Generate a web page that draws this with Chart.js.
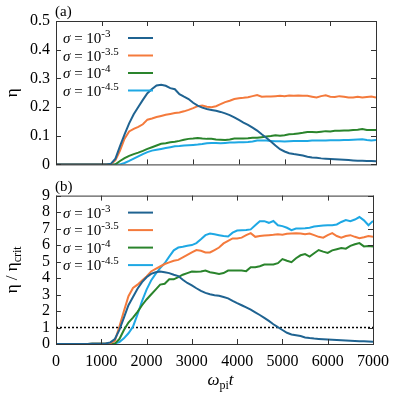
<!DOCTYPE html>
<html>
<head>
<meta charset="utf-8">
<script src="https://cdn.jsdelivr.net/npm/chart.js@4.4.1/dist/chart.umd.min.js"></script>
<style>
  body { margin: 0; background: #fff; }
  #wrap { position: relative; width: 397px; height: 397px; }
  canvas { position: absolute; left: 0; }
</style>
</head>
<body>
<div id="wrap">
  <canvas id="top" width="397" height="180" style="top:0"></canvas>
  <canvas id="bottom" width="397" height="217" style="top:180px"></canvas>
</div>
<script>
// time axis (omega_pi t)
const times = [
  0, 100, 200, 300, 400, 500, 600, 700, 800, 900,
  1000, 1100, 1200, 1300, 1400, 1500, 1600, 1700, 1800, 1900,
  2000, 2100, 2200, 2300, 2400, 2500, 2600, 2700, 2800, 2900,
  3000, 3100, 3200, 3300, 3400, 3500, 3600, 3700, 3800, 3900,
  4000, 4100, 4200, 4300, 4400, 4500, 4600, 4700, 4800, 4900,
  5000, 5100, 5200, 5300, 5400, 5500, 5600, 5700, 5800, 5900,
  6000, 6100, 6200, 6300, 6400, 6500, 6600, 6700, 6800, 6900,
  7000
];

const sigmaExps = ["-3", "-3.5", "-4", "-4.5"];
const colors = ["#1f6391", "#f47a3c", "#2a842c", "#1ea8e4"];

// panel (a): eta
const eta_3 = [
  0, 0, 0, 0, 0, 0, 0, 0, 0, 0,
  0, 0, 0.002, 0.02, 0.064, 0.105, 0.143, 0.175, 0.2, 0.225,
  0.248, 0.263, 0.275, 0.278, 0.274, 0.266, 0.262, 0.245, 0.236, 0.228,
  0.215, 0.205, 0.198, 0.193, 0.19, 0.187, 0.183, 0.178, 0.172, 0.164,
  0.155, 0.146, 0.138, 0.128, 0.118, 0.105, 0.093, 0.08, 0.066, 0.053,
  0.045, 0.039, 0.036, 0.034, 0.031, 0.027, 0.024, 0.023, 0.021, 0.02,
  0.019, 0.018, 0.017, 0.016, 0.015, 0.014, 0.013, 0.013, 0.012, 0.012,
  0.011
];
const eta_35 = [
  0, 0, 0, 0, 0, 0, 0, 0, 0, 0,
  0, 0, 0, 0.015, 0.048, 0.09, 0.115, 0.124, 0.131, 0.14,
  0.156, 0.16, 0.165, 0.169, 0.173, 0.176, 0.179, 0.181, 0.185, 0.19,
  0.196, 0.203, 0.205, 0.201, 0.199, 0.203, 0.21, 0.217, 0.222, 0.228,
  0.231, 0.232, 0.234, 0.238, 0.242, 0.236, 0.237, 0.237, 0.238, 0.239,
  0.238, 0.24, 0.239, 0.24, 0.239, 0.239, 0.236, 0.233, 0.238, 0.241,
  0.236, 0.235, 0.238, 0.236, 0.233, 0.233, 0.236, 0.233, 0.235, 0.237,
  0.233
];
const eta_4 = [
  0, 0, 0, 0, 0, 0, 0, 0, 0, 0,
  0, 0, 0, 0, 0.012, 0.022, 0.03, 0.036, 0.041, 0.047,
  0.054, 0.06, 0.066, 0.072, 0.074, 0.077, 0.079, 0.082, 0.086, 0.089,
  0.09, 0.092, 0.09, 0.089, 0.089, 0.087, 0.086, 0.085, 0.087, 0.09,
  0.09, 0.09, 0.091, 0.093, 0.093, 0.095, 0.097, 0.099, 0.102, 0.1,
  0.102, 0.105, 0.106, 0.108, 0.11, 0.113, 0.113, 0.112, 0.114, 0.116,
  0.115, 0.117, 0.117, 0.118, 0.118, 0.12, 0.121, 0.123, 0.12, 0.12,
  0.12
];
const eta_45 = [
  0, 0, 0, 0, 0, 0, 0, 0, 0, 0,
  0, 0, 0, 0, 0, 0.005, 0.012, 0.02, 0.028, 0.036,
  0.043, 0.048, 0.051, 0.054, 0.057, 0.06, 0.063, 0.064, 0.066, 0.067,
  0.068, 0.069, 0.071, 0.074, 0.075, 0.075, 0.074, 0.075, 0.076, 0.076,
  0.077, 0.077, 0.078, 0.08, 0.083, 0.083, 0.083, 0.082, 0.081, 0.081,
  0.08, 0.081, 0.082, 0.082, 0.082, 0.082, 0.083, 0.083, 0.083, 0.083,
  0.084, 0.084, 0.084, 0.085, 0.085, 0.086, 0.087, 0.088, 0.085, 0.083,
  0.085
];

// panel (b): eta / eta_crit
const ratio_3 = [
  0, 0, 0, 0, 0, 0, 0, 0, 0.01, 0.01,
  0.02, 0.03, 0.1, 0.3, 0.86, 1.6, 2.35, 2.85, 3.35, 3.75,
  4.05, 4.25, 4.35, 4.4, 4.35, 4.3, 4.2, 4.12, 3.9, 3.7,
  3.55, 3.38, 3.22, 3.1, 3.02, 2.96, 2.92, 2.85, 2.77, 2.62,
  2.48, 2.35, 2.22, 2.08, 1.92, 1.76, 1.58, 1.4, 1.2, 1.02,
  0.85, 0.68, 0.58, 0.53, 0.48, 0.4, 0.36, 0.33, 0.31, 0.29,
  0.27, 0.255, 0.24, 0.225, 0.21, 0.195, 0.18, 0.17, 0.16, 0.15,
  0.14
];
const ratio_35 = [
  0, 0, 0, 0, 0, 0, 0, 0, 0.01, 0.01,
  0.02, 0.03, 0.05, 0.2, 1.06, 2.0, 2.9, 3.4, 3.6, 3.85,
  4.1, 4.4, 4.55, 4.7, 4.85, 4.95, 5.05, 5.1, 5.25, 5.4,
  5.55, 5.7, 5.65, 5.55, 5.55, 5.7, 5.85, 6.1, 6.25, 6.4,
  6.4, 6.45, 6.6, 6.72, 6.5, 6.55, 6.58, 6.6, 6.62, 6.65,
  6.62, 6.68, 6.7, 6.72, 6.7, 6.65, 6.7, 6.6, 6.5, 6.45,
  6.6, 6.72, 6.55, 6.45, 6.55, 6.6, 6.5, 6.42, 6.48, 6.55,
  6.5
];
const ratio_4 = [
  0, 0, 0, 0, 0, 0, 0, 0, 0.01, 0.01,
  0.02, 0.02, 0.02, 0.02, 0.3, 0.85, 1.3, 1.6, 1.95, 2.35,
  2.7, 3.0, 3.3, 3.6, 3.65, 3.92, 3.92, 4.05, 4.2, 4.3,
  4.4, 4.38, 4.4, 4.45, 4.35, 4.3, 4.25, 4.3, 4.45, 4.45,
  4.45, 4.45, 4.42, 4.65, 4.65, 4.72, 4.82, 4.82, 4.82, 4.9,
  5.15, 5.05, 4.96, 5.2, 5.38, 5.45, 5.3, 5.5, 5.7, 5.6,
  5.52, 5.68, 5.75, 5.82, 5.78, 5.95, 6.05, 6.12, 5.92, 5.95,
  5.92
];
const ratio_45 = [
  0, 0, 0, 0, 0, 0, 0, 0, 0.01, 0.01,
  0.02, 0.02, 0.02, 0.03, 0.12, 0.34, 0.65, 1.05, 1.8, 2.6,
  3.3, 3.85, 4.25, 4.6, 4.9, 5.3, 5.68, 5.85, 5.9, 5.96,
  6.0, 6.12, 6.35, 6.6, 6.7, 6.65, 6.6, 6.55, 6.52, 6.75,
  6.88, 6.9, 6.92, 6.95, 7.2, 7.45, 7.45, 7.35, 7.46, 7.2,
  7.15, 7.05, 6.9, 7.0, 7.0, 7.02, 7.05, 7.12, 7.16, 7.18,
  7.2, 7.2, 7.25, 7.4, 7.52, 7.45, 7.55, 7.7, 7.5, 7.2,
  7.46
];

// threshold eta = eta_crit
const critTimes = [0, 7000];
const critLevel = [1, 1];

const SERIF = "'Liberation Serif', 'DejaVu Serif', serif";
Chart.defaults.font.family = SERIF;
Chart.defaults.color = "#000";

function toPoints(xs, ys) {
  return ys.map((y, i) => ({ x: xs[i], y: y }));
}

function lineSet(label, values, color) {
  return {
    label: label,
    data: toPoints(times, values),
    borderColor: color,
    borderWidth: 2,
    pointRadius: 0,
    tension: 0,
    fill: false
  };
}

// draws a list of text pieces side by side: {t, font, dy}
function drawRich(ctx, parts, x, y, align) {
  let total = 0;
  parts.forEach(p => { ctx.font = p.font; total += ctx.measureText(p.t).width; });
  let cx = align === "center" ? x - total / 2 : x;
  ctx.textAlign = "left";
  ctx.textBaseline = "alphabetic";
  parts.forEach(p => {
    ctx.font = p.font;
    ctx.fillText(p.t, cx, y + (p.dy || 0));
    cx += ctx.measureText(p.t).width;
  });
}

// box around plot and inward ticks on all four sides
const framePlugin = {
  id: "frame",
  afterDraw(chart) {
    const { ctx, chartArea: a, scales } = chart;
    const len = 5;
    ctx.save();
    ctx.strokeStyle = "#333";
    ctx.lineWidth = 1;
    ctx.beginPath();
    scales.x.ticks.forEach(t => {
      const px = Math.round(scales.x.getPixelForValue(t.value)) + 0.5;
      ctx.moveTo(px, a.bottom); ctx.lineTo(px, a.bottom - len);
      ctx.moveTo(px, a.top); ctx.lineTo(px, a.top + len);
    });
    scales.y.ticks.forEach(t => {
      const py = Math.round(scales.y.getPixelForValue(t.value)) + 0.5;
      ctx.moveTo(a.left, py); ctx.lineTo(a.left + len, py);
      ctx.moveTo(a.right, py); ctx.lineTo(a.right - len, py);
    });
    ctx.stroke();
    ctx.strokeRect(a.left + 0.5, a.top + 0.5, a.right - a.left, a.bottom - a.top);
    ctx.restore();
  }
};

// legend with superscripts, drawn inside the plot
const legendPlugin = {
  id: "sigmaLegend",
  afterDraw(chart) {
    const { ctx, chartArea: a } = chart;
    ctx.save();
    ctx.fillStyle = "#000";
    sigmaExps.forEach((e, i) => {
      const ly = a.top + 17 + i * 17.5;
      drawRich(ctx, [
        { t: "\u03C3", font: "italic 15px " + SERIF },
        { t: " = 10", font: "15px " + SERIF },
        { t: e, font: "11px " + SERIF, dy: -6 }
      ], a.left + 7, ly + 5, "left");
      ctx.strokeStyle = colors[i];
      ctx.lineWidth = 2;
      ctx.beginPath();
      ctx.moveTo(a.left + 72, ly);
      ctx.lineTo(a.left + 97, ly);
      ctx.stroke();
    });
    ctx.restore();
  }
};

const labelPlugin = {
  id: "labels",
  afterDraw(chart) {
    const { ctx, chartArea: a } = chart;
    const o = chart.options.plugins.labels;
    ctx.save();
    ctx.fillStyle = "#000";
    drawRich(ctx, [{ t: o.panel, font: "15px " + SERIF }], a.left - 1, a.top - 5, "left");
    ctx.translate(12, (a.top + a.bottom) / 2);
    ctx.rotate(-Math.PI / 2);
    drawRich(ctx, o.ytitle, 0, 5, "center");
    ctx.restore();
    if (o.xtitle) {
      ctx.save();
      ctx.fillStyle = "#000";
      drawRich(ctx, o.xtitle, (a.left + a.right) / 2 + 6, a.bottom + 41, "center");
      ctx.restore();
    }
  }
};

function baseScales(ymax, ystep, showX) {
  return {
    x: {
      type: "linear",
      min: 0,
      max: 7000,
      grid: { display: false, drawTicks: false },
      border: { display: false },
      ticks: {
        display: showX,
        stepSize: 1000,
        autoSkip: false,
        maxRotation: 0,
        padding: 8,
        color: "#000",
        font: { family: SERIF, size: 16 },
        callback: v => String(v)
      },
      afterFit(scale) { scale.height = showX ? 53 : 9; }
    },
    y: {
      min: 0,
      max: ymax,
      grid: { display: false, drawTicks: false },
      border: { display: false },
      ticks: {
        stepSize: ystep,
        autoSkip: false,
        padding: 6,
        color: "#000",
        font: { family: SERIF, size: 16 },
        callback: v => String(Math.round(v * 10) / 10)
      },
      afterFit(scale) { scale.width = 56; }
    }
  };
}

new Chart(document.getElementById("top"), {
  type: "line",
  data: {
    datasets: [
      lineSet("sigma = 1e-3", eta_3, colors[0]),
      lineSet("sigma = 1e-3.5", eta_35, colors[1]),
      lineSet("sigma = 1e-4", eta_4, colors[2]),
      lineSet("sigma = 1e-4.5", eta_45, colors[3])
    ]
  },
  options: {
    responsive: false,
    animation: false,
    layout: { padding: { top: 21, right: 21, left: 0, bottom: 0 } },
    scales: baseScales(0.5, 0.1, false),
    plugins: {
      legend: { display: false },
      tooltip: { enabled: false },
      labels: {
        panel: "(a)",
        ytitle: [{ t: "\u03B7", font: "17px " + SERIF }]
      }
    }
  },
  plugins: [framePlugin, legendPlugin, labelPlugin]
});

new Chart(document.getElementById("bottom"), {
  type: "line",
  data: {
    datasets: [
      lineSet("sigma = 1e-3", ratio_3, colors[0]),
      lineSet("sigma = 1e-3.5", ratio_35, colors[1]),
      lineSet("sigma = 1e-4", ratio_4, colors[2]),
      lineSet("sigma = 1e-4.5", ratio_45, colors[3]),
      {
        label: "eta_crit",
        data: toPoints(critTimes, critLevel),
        borderColor: "#000",
        borderWidth: 1.5,
        borderDash: [2, 2],
        pointRadius: 0,
        fill: false
      }
    ]
  },
  options: {
    responsive: false,
    animation: false,
    layout: { padding: { top: 14, right: 21, left: 0, bottom: 0 } },
    scales: baseScales(9, 1, true),
    plugins: {
      legend: { display: false },
      tooltip: { enabled: false },
      labels: {
        panel: "(b)",
        ytitle: [
          { t: "\u03B7 / \u03B7", font: "17px " + SERIF },
          { t: "crit", font: "12px " + SERIF, dy: 4 }
        ],
        xtitle: [
          { t: "\u03C9", font: "italic 17px " + SERIF },
          { t: "pi", font: "12px " + SERIF, dy: 4 },
          { t: "t", font: "italic 17px " + SERIF }
        ]
      }
    }
  },
  plugins: [framePlugin, legendPlugin, labelPlugin]
});
</script>
</body>
</html>
